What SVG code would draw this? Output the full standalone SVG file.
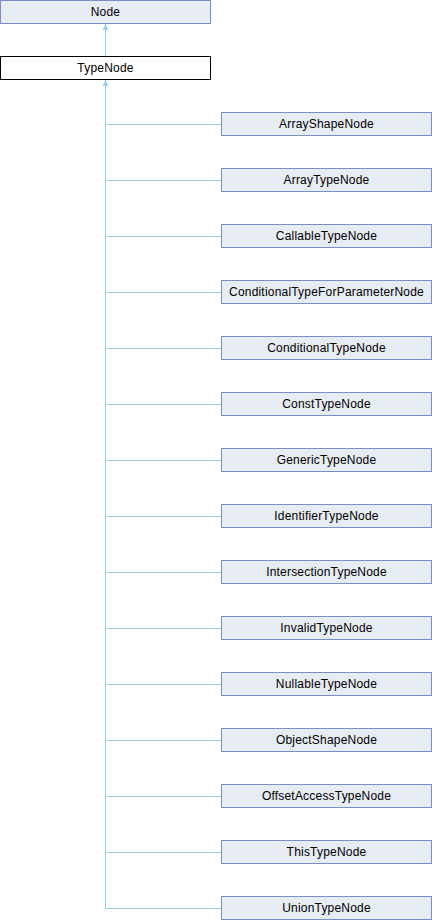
<svg xmlns="http://www.w3.org/2000/svg" width="432" height="920" viewBox="0 0 432 920">
  <style>
    .box { fill: #E7EBF4; stroke: #7B8EC6; stroke-width: 1; }
    .cur { fill: #FFFFFF; stroke: #000000; stroke-width: 1; }
    .lbl { font-family: "Liberation Sans", Arial, sans-serif; font-size: 12px; letter-spacing: 0.2px; fill: #000000; text-anchor: middle; }
    .edge { fill: none; stroke: #9CCDE8; stroke-width: 1; }
  </style>
  <defs>
    <marker id="inherit" viewBox="0 0 10 10" refX="10" refY="5" markerWidth="6" markerHeight="6" orient="auto" markerUnits="userSpaceOnUse">
      <path d="M0,0 L10,5 L0,10 z" fill="#9CCDE8"/>
    </marker>
  </defs>

  <g id="edges">
    <line class="edge" x1="105.5" y1="56" x2="105.5" y2="24" marker-end="url(#inherit)"/>
    <line class="edge" x1="105.5" y1="908.5" x2="105.5" y2="80" marker-end="url(#inherit)"/>
    <path class="edge" d="M105.5,124.5H221 M105.5,180.5H221 M105.5,236.5H221 M105.5,292.5H221 M105.5,348.5H221 M105.5,404.5H221 M105.5,460.5H221 M105.5,516.5H221 M105.5,572.5H221 M105.5,628.5H221 M105.5,684.5H221 M105.5,740.5H221 M105.5,796.5H221 M105.5,852.5H221 M105.5,908.5H221"/>
  </g>

  <g id="node-Node"><rect class="box" x="0.5" y="0.5" width="210" height="23"/><text class="lbl" x="105.5" y="16">Node</text></g>
  <g id="node-TypeNode"><rect class="cur" x="0.5" y="56.5" width="210" height="23"/><text class="lbl" x="105.5" y="72">TypeNode</text></g>

  <g id="node-ArrayShapeNode"><rect class="box" x="221.5" y="112.5" width="210" height="23"/><text class="lbl" x="326.5" y="128">ArrayShapeNode</text></g>
  <g id="node-ArrayTypeNode"><rect class="box" x="221.5" y="168.5" width="210" height="23"/><text class="lbl" x="326.5" y="184">ArrayTypeNode</text></g>
  <g id="node-CallableTypeNode"><rect class="box" x="221.5" y="224.5" width="210" height="23"/><text class="lbl" x="326.5" y="240">CallableTypeNode</text></g>
  <g id="node-ConditionalTypeForParameterNode"><rect class="box" x="221.5" y="280.5" width="210" height="23"/><text class="lbl" x="326.5" y="296">ConditionalTypeForParameterNode</text></g>
  <g id="node-ConditionalTypeNode"><rect class="box" x="221.5" y="336.5" width="210" height="23"/><text class="lbl" x="326.5" y="352">ConditionalTypeNode</text></g>
  <g id="node-ConstTypeNode"><rect class="box" x="221.5" y="392.5" width="210" height="23"/><text class="lbl" x="326.5" y="408">ConstTypeNode</text></g>
  <g id="node-GenericTypeNode"><rect class="box" x="221.5" y="448.5" width="210" height="23"/><text class="lbl" x="326.5" y="464">GenericTypeNode</text></g>
  <g id="node-IdentifierTypeNode"><rect class="box" x="221.5" y="504.5" width="210" height="23"/><text class="lbl" x="326.5" y="520">IdentifierTypeNode</text></g>
  <g id="node-IntersectionTypeNode"><rect class="box" x="221.5" y="560.5" width="210" height="23"/><text class="lbl" x="326.5" y="576">IntersectionTypeNode</text></g>
  <g id="node-InvalidTypeNode"><rect class="box" x="221.5" y="616.5" width="210" height="23"/><text class="lbl" x="326.5" y="632">InvalidTypeNode</text></g>
  <g id="node-NullableTypeNode"><rect class="box" x="221.5" y="672.5" width="210" height="23"/><text class="lbl" x="326.5" y="688">NullableTypeNode</text></g>
  <g id="node-ObjectShapeNode"><rect class="box" x="221.5" y="728.5" width="210" height="23"/><text class="lbl" x="326.5" y="744">ObjectShapeNode</text></g>
  <g id="node-OffsetAccessTypeNode"><rect class="box" x="221.5" y="784.5" width="210" height="23"/><text class="lbl" x="326.5" y="800">OffsetAccessTypeNode</text></g>
  <g id="node-ThisTypeNode"><rect class="box" x="221.5" y="840.5" width="210" height="23"/><text class="lbl" x="326.5" y="856">ThisTypeNode</text></g>
  <g id="node-UnionTypeNode"><rect class="box" x="221.5" y="896.5" width="210" height="23"/><text class="lbl" x="326.5" y="912">UnionTypeNode</text></g>
</svg>
